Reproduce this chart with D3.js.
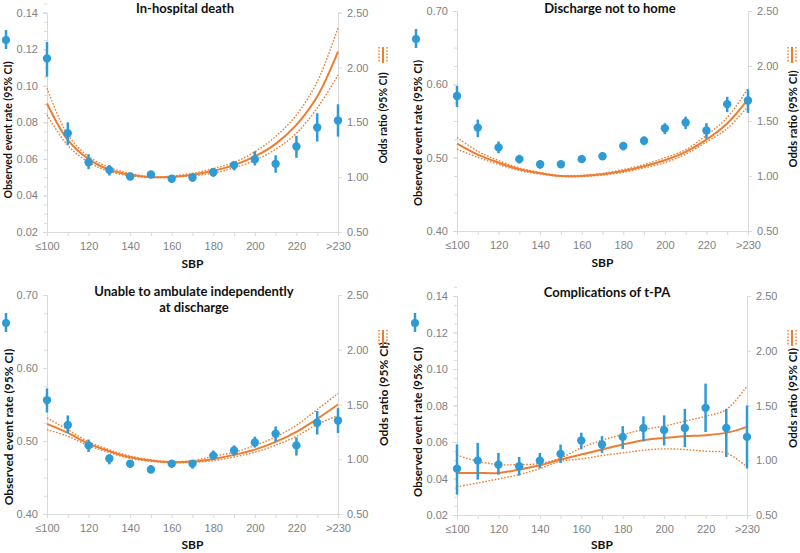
<!DOCTYPE html>
<html lang="en">
<head>
<meta charset="UTF-8">
<script src="https://cdn.jsdelivr.net/npm/d3@7"></script>
<title>SBP and outcomes</title>
<style>
  html, body { margin: 0; padding: 0; background: #fff; }
  svg { font-family: Lato, "Open Sans", sans-serif; }
  .axis path, .axis line { stroke: #d9d9d9; }
  .axis text { fill: #7f7f7f; font-size: 11px; }
  .title { font-weight: bold; font-size: 13px; fill: #111; }
  .lab { font-weight: bold; font-size: 12px; fill: #111; }
</style>
</head>
<body>
<svg id="chart" width="800" height="553"></svg>
<script>
const sbp = ["≤100","110","120","130","140","150","160","170","180","190","200","210","220","230",">230"];
const sbpShown = ["≤100","120","140","160","180","200","220",">230"];
const orTicks = [0.5, 1.0, 1.5, 2.0, 2.5];

// In-hospital death
const deathRate = [0.115,0.074,0.0582,0.054,0.0504,0.0515,0.0491,0.0498,0.0527,0.0566,0.0598,0.0573,0.0668,0.0772,0.081];
const deathLo   = [0.105,0.0677,0.0544,0.0509,0.0484,0.0495,0.0469,0.0476,0.0502,0.0537,0.0564,0.0524,0.0606,0.0695,0.0722];
const deathHi   = [0.124,0.080,0.0626,0.0566,0.0524,0.0533,0.0509,0.052,0.0549,0.0588,0.0642,0.062,0.0726,0.085,0.0899];
const deathOr   = [1.672,1.34,1.165,1.068,1.022,1.0,1.004,1.022,1.058,1.11,1.189,1.304,1.477,1.735,2.145];
const deathOrLo = [1.568,1.289,1.137,1.052,1.012,0.997,0.999,1.013,1.037,1.085,1.153,1.255,1.4,1.63,1.93];
const deathOrHi = [1.811,1.386,1.19,1.089,1.035,1.003,1.01,1.035,1.079,1.135,1.231,1.371,1.568,1.87,2.36];

// Discharge not to home
const homeRate = [0.584,0.541,0.514,0.498,0.491,0.491,0.498,0.502,0.516,0.523,0.540,0.548,0.537,0.573,0.578];
const homeLo   = [0.569,0.528,0.506,0.492,0.485,0.486,0.493,0.497,0.510,0.517,0.532,0.539,0.526,0.562,0.561];
const homeHi   = [0.598,0.552,0.522,0.504,0.496,0.495,0.503,0.507,0.521,0.529,0.547,0.556,0.547,0.583,0.593];
const homeOr   = [1.295,1.195,1.122,1.061,1.025,1.0,1.0,1.016,1.046,1.089,1.143,1.219,1.33,1.477,1.696];
const homeOrLo = [1.244,1.170,1.105,1.050,1.018,0.996,0.995,1.008,1.034,1.074,1.122,1.198,1.309,1.431,1.635];
const homeOrHi = [1.35,1.225,1.140,1.073,1.033,1.004,1.006,1.024,1.058,1.104,1.164,1.240,1.370,1.531,1.796];

// Unable to ambulate independently at discharge
const ambRate = [0.556,0.522,0.494,0.476,0.469,0.461,0.469,0.469,0.480,0.487,0.498,0.510,0.494,0.525,0.528];
const ambLo   = [0.539,0.511,0.485,0.468,0.463,0.456,0.463,0.462,0.474,0.480,0.491,0.499,0.480,0.509,0.511];
const ambHi   = [0.572,0.535,0.502,0.482,0.474,0.467,0.474,0.474,0.487,0.494,0.506,0.520,0.505,0.541,0.545];
const ambOr   = [1.323,1.241,1.143,1.073,1.018,0.988,0.973,0.979,1.003,1.04,1.088,1.159,1.25,1.369,1.5];
const ambOrLo = [1.271,1.210,1.125,1.060,1.008,0.981,0.968,0.972,0.988,1.021,1.064,1.128,1.21,1.317,1.4];
const ambOrHi = [1.378,1.271,1.160,1.087,1.029,0.995,0.978,0.987,1.027,1.064,1.125,1.204,1.311,1.454,1.6];

// Complications of t-PA
const tpaRate = [0.0454,0.0498,0.0476,0.0467,0.0498,0.0535,0.0608,0.0586,0.0628,0.0677,0.0665,0.0677,0.0787,0.0677,0.0628];
const tpaLo   = [0.0312,0.0394,0.0421,0.0416,0.0456,0.0485,0.0560,0.0540,0.0562,0.0604,0.0581,0.0572,0.0655,0.0518,0.0455];
const tpaHi   = [0.0587,0.0595,0.054,0.0518,0.0540,0.0586,0.0651,0.0632,0.0687,0.0741,0.0746,0.0782,0.0920,0.0782,0.0800];
const tpaOr   = [0.884,0.884,0.884,0.915,0.954,1.006,1.052,1.098,1.143,1.183,1.204,1.22,1.229,1.25,1.305];
const tpaOrLo = [0.756,0.793,0.829,0.869,0.924,0.991,1.012,1.043,1.067,1.091,1.104,1.098,1.082,1.067,0.939];
const tpaOrHi = [1.046,0.991,0.96,0.96,0.97,1.021,1.113,1.183,1.235,1.28,1.311,1.357,1.402,1.463,1.677];

const blue = "#2e9bd5", orange = "#ed7d31";
const svg = d3.select("#chart");

const panels = [
  { title: ["In-hospital death"], titleX: 185, titleY: 13,
    rate: deathRate, lo: deathLo, hi: deathHi, or: deathOr, orLo: deathOrLo, orHi: deathOrHi,
    yDomain: [0.02, 0.14], yStep: 0.02,
    box: { l: 47, r: 338, t: 12.7, b: 232 }, labSize: 10.5,
    leftLab: [8, 130], blueMark: [6, 40], rightLab: [383, 118], orMark: [383, 55], xLabY: 268 },
  { title: ["Discharge not to home"], titleX: 610, titleY: 13,
    rate: homeRate, lo: homeLo, hi: homeHi, or: homeOr, orLo: homeOrLo, orHi: homeOrHi,
    yDomain: [0.40, 0.70], yStep: 0.10,
    box: { l: 457, r: 748, t: 11, b: 231 }, labSize: 11.2,
    leftLab: [417, 133], blueMark: [416, 39], rightLab: [792, 119], orMark: [792, 55], xLabY: 267 },
  { title: ["Unable to ambulate independently", "at discharge"], titleX: 194, titleY: 296,
    rate: ambRate, lo: ambLo, hi: ambHi, or: ambOr, orLo: ambOrLo, orHi: ambOrHi,
    yDomain: [0.40, 0.70], yStep: 0.10,
    box: { l: 47, r: 338, t: 295, b: 514 }, labSize: 12,
    leftLab: [8, 427], blueMark: [6, 323], rightLab: [383, 394], orMark: [383, 338], xLabY: 549 },
  { title: ["Complications of t-PA"], titleX: 607, titleY: 297,
    rate: tpaRate, lo: tpaLo, hi: tpaHi, or: tpaOr, orLo: tpaOrLo, orHi: tpaOrHi,
    yDomain: [0.02, 0.14], yStep: 0.02,
    box: { l: 457, r: 747, t: 296, b: 515 }, labSize: 11.5,
    leftLab: [417, 422], blueMark: [415, 323], rightLab: [792, 398], orMark: [792, 338], xLabY: 549 }
];

panels.forEach(drawPanel);

function drawPanel(p) {
  const b = p.box;
  const g = svg.append("g");
  const x = d3.scalePoint().domain(sbp).range([b.l, b.r]);
  const y = d3.scaleLinear().domain(p.yDomain).range([b.b, b.t]);
  const yOr = d3.scaleLinear().domain([0.5, 2.5]).range([b.b, b.t]);

  const major = d3.range(p.yDomain[0], p.yDomain[1] + p.yStep / 2, p.yStep);
  const minor = d3.range(p.yDomain[0], p.yDomain[1] + p.yStep / 4, p.yStep / 4);

  // minor ticks on left axis
  g.append("g").attr("class", "axis").attr("transform", `translate(${b.l},0)`)
    .call(d3.axisLeft(y).tickValues(minor).tickSize(3).tickFormat(""))
    .call(a => a.select(".domain").remove());

  g.append("g").attr("class", "axis").attr("transform", `translate(${b.l},0)`)
    .call(d3.axisLeft(y).tickValues(major).tickSize(4).tickPadding(5).tickFormat(d3.format(".2f")));

  g.append("g").attr("class", "axis").attr("transform", `translate(${b.r},0)`)
    .call(d3.axisRight(yOr).tickValues(orTicks).tickSize(4).tickPadding(5).tickFormat(d3.format(".2f")));

  g.append("g").attr("class", "axis").attr("transform", `translate(0,${b.b})`)
    .call(d3.axisBottom(x).tickSize(4).tickPadding(6)
      .tickFormat(d => sbpShown.includes(d) ? d : ""));

  // odds ratio curves
  const line = arr => d3.line()
    .x((d, i) => x(sbp[i]))
    .y(d => yOr(d))
    .curve(d3.curveCatmullRom)(arr);

  [p.orLo, p.orHi].forEach(arr => {
    g.append("path").attr("d", line(arr)).attr("fill", "none")
      .attr("stroke", orange).attr("stroke-width", 1.4).attr("stroke-dasharray", "1.6,1.6");
  });
  g.append("path").attr("d", line(p.or)).attr("fill", "none")
    .attr("stroke", orange).attr("stroke-width", 2);

  // observed rates with CI
  const pts = g.append("g").selectAll("g").data(p.rate).join("g");
  pts.append("line")
    .attr("x1", (d, i) => x(sbp[i])).attr("x2", (d, i) => x(sbp[i]))
    .attr("y1", (d, i) => y(p.lo[i])).attr("y2", (d, i) => y(p.hi[i]))
    .attr("stroke", blue).attr("stroke-width", 2.5);
  pts.append("circle")
    .attr("cx", (d, i) => x(sbp[i])).attr("cy", d => y(d))
    .attr("r", 4.2).attr("fill", blue);

  // titles
  const t = g.append("text").attr("class", "title").attr("text-anchor", "middle");
  p.title.forEach((s, i) => {
    t.append("tspan").attr("x", p.titleX).attr("y", p.titleY + i * 16).text(s);
  });

  g.append("text").attr("class", "lab").attr("text-anchor", "middle")
    .attr("x", (b.l + b.r) / 2).attr("y", p.xLabY).text("SBP");

  g.append("text").attr("class", "lab").attr("text-anchor", "middle")
    .attr("dominant-baseline", "central").style("font-size", p.labSize + "px")
    .attr("transform", `translate(${p.leftLab[0]},${p.leftLab[1]}) rotate(-90)`)
    .text("Observed event rate (95% CI)");

  g.append("text").attr("class", "lab").attr("text-anchor", "middle")
    .attr("dominant-baseline", "central").style("font-size", p.labSize + "px")
    .attr("transform", `translate(${p.rightLab[0]},${p.rightLab[1]}) rotate(-90)`)
    .text("Odds ratio (95% CI)");

  // legend glyphs beside axis titles
  const bm = p.blueMark;
  g.append("line").attr("x1", bm[0]).attr("x2", bm[0]).attr("y1", bm[1] - 10).attr("y2", bm[1] + 9)
    .attr("stroke", blue).attr("stroke-width", 2.5);
  g.append("circle").attr("cx", bm[0]).attr("cy", bm[1]).attr("r", 4).attr("fill", blue);

  const om = p.orMark;
  [-4, 0, 4].forEach(dx => {
    const l = g.append("line").attr("x1", om[0] + dx).attr("x2", om[0] + dx)
      .attr("y1", om[1] - 8).attr("y2", om[1] + 8).attr("stroke", orange);
    if (dx === 0) l.attr("stroke-width", 2);
    else l.attr("stroke-width", 1.4).attr("stroke-dasharray", "1.6,1.6");
  });
}
</script>
</body>
</html>
